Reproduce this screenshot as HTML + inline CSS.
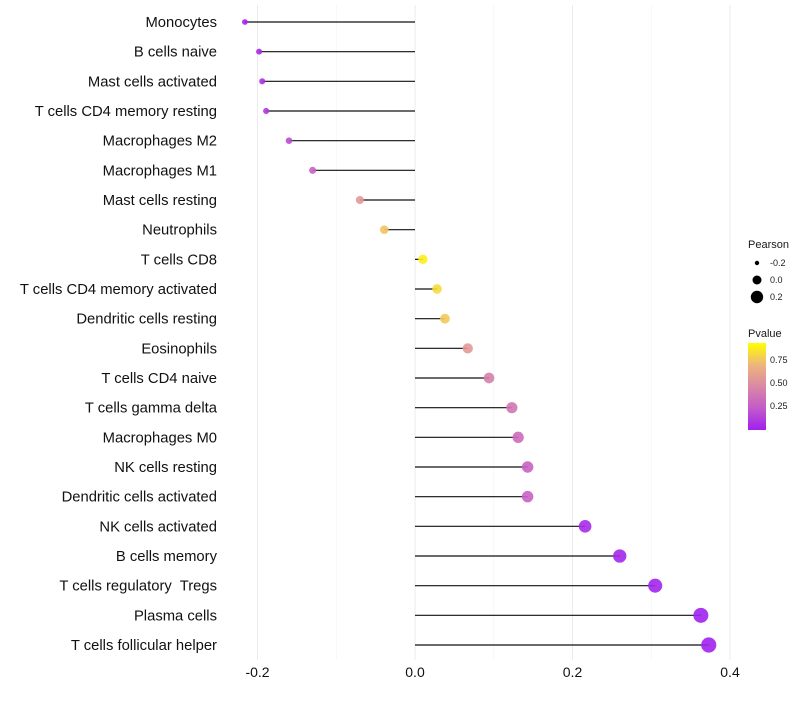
<!DOCTYPE html>
<html><head><meta charset="utf-8"><style>
body{margin:0;background:#fff;}
svg text{font-family:"Liberation Sans",sans-serif;white-space:pre;}
</style></head><body>
<svg id="chart" width="800" height="700" xmlns="http://www.w3.org/2000/svg">
<g id="grid"></g>
<g id="marks"></g>
<g id="ylabels"></g>
<g id="xlabels"></g>
<g id="legend">
<text x="748" y="248" font-size="11" fill="#1a1a1a">Pearson</text>
<circle cx="757" cy="263" r="2.2" fill="#000"/>
<text x="770" y="266" font-size="9" fill="#1a1a1a">-0.2</text>
<circle cx="757" cy="280" r="4.5" fill="#000"/>
<text x="770" y="283" font-size="9" fill="#1a1a1a">0.0</text>
<circle cx="757" cy="297" r="6.2" fill="#000"/>
<text x="770" y="300" font-size="9" fill="#1a1a1a">0.2</text>
<text x="748" y="337" font-size="11" fill="#1a1a1a">Pvalue</text>
<defs><linearGradient id="pg" x1="0" y1="1" x2="0" y2="0">
<stop offset="0" stop-color="#a020f0"/><stop offset="0.25" stop-color="#c35ac9"/><stop offset="0.5" stop-color="#da88a5"/><stop offset="0.75" stop-color="#eeb57c"/><stop offset="1" stop-color="#ffff00"/></linearGradient></defs>
<rect x="748" y="343" width="18" height="87" fill="url(#pg)"/>
<text x="770" y="363" font-size="9" fill="#1a1a1a">0.75</text>
<text x="770" y="386" font-size="9" fill="#1a1a1a">0.50</text>
<text x="770" y="409" font-size="9" fill="#1a1a1a">0.25</text>
</g>
</svg>
<script>
const categories=["Monocytes","B cells naive","Mast cells activated","T cells CD4 memory resting","Macrophages M2","Macrophages M1","Mast cells resting","Neutrophils","T cells CD8","T cells CD4 memory activated","Dendritic cells resting","Eosinophils","T cells CD4 naive","T cells gamma delta","Macrophages M0","NK cells resting","Dendritic cells activated","NK cells activated","B cells memory","T cells regulatory  Tregs","Plasma cells","T cells follicular helper"];
const pearson=[-0.216,-0.198,-0.194,-0.189,-0.160,-0.130,-0.070,-0.039,0.010,0.028,0.038,0.067,0.094,0.123,0.131,0.143,0.143,0.216,0.260,0.305,0.363,0.373];
const pvalue=[0.02,0.05,0.08,0.1,0.2,0.3,0.6,0.8,0.95,0.88,0.82,0.6,0.45,0.4,0.35,0.3,0.3,0.05,0.03,0.02,0.01,0.01];
const xTicks=[-0.2,0,0.2,0.4];
const xTickLabels=["-0.2","0.0","0.2","0.4"];
const minorTicks=[-0.1,0.1,0.3];
const NS="http://www.w3.org/2000/svg";
function xs(v){return 415+v*787.5;}
function ys(i){return 22+i*(623/21);}
function rs(p){return Math.max(2,4.6+8*p);}
const stops=[[0,[160,32,240]],[0.25,[195,90,201]],[0.5,[218,136,165]],[0.75,[238,181,124]],[1,[255,255,0]]];
function col(p){p=Math.max(0,Math.min(1,p));for(let k=1;k<stops.length;k++){if(p<=stops[k][0]){const a=stops[k-1],b=stops[k];const t=(p-a[0])/(b[0]-a[0]);const c=a[1].map((v,j)=>Math.round(v+(b[1][j]-v)*t));return `rgb(${c[0]},${c[1]},${c[2]})`;}}return "rgb(255,255,0)";}
function mk(tag,attrs,parent){const e=document.createElementNS(NS,tag);for(const k in attrs)e.setAttribute(k,attrs[k]);parent.appendChild(e);return e;}
const grid=document.getElementById('grid'),marks=document.getElementById('marks'),yl=document.getElementById('ylabels'),xl=document.getElementById('xlabels');
minorTicks.forEach(v=>{const l=mk('line',{x1:xs(v),x2:xs(v),y1:5,y2:660,stroke:'#f2f2f2','stroke-width':0.6},grid);

});
xTicks.forEach((v,i)=>{const l=mk('line',{x1:xs(v),x2:xs(v),y1:5,y2:660,stroke:'#ebebeb','stroke-width':1},grid);


const t=mk('text',{x:xs(v),y:677,'font-size':14,fill:'#111','text-anchor':'middle'},xl);t.textContent=xTickLabels[i];

});
categories.forEach((c,i)=>{const y=ys(i);
const l=mk('line',{x1:xs(0),x2:xs(pearson[i]),y1:y,y2:y,stroke:'#111','stroke-width':1.2},marks);


const d=mk('circle',{cx:xs(pearson[i]),cy:y,r:rs(pearson[i]),fill:col(pvalue[i]),'fill-opacity':0.9},marks);


const t=mk('text',{x:217,y:y+5,'font-size':14.8,fill:'#111','text-anchor':'end'},yl);t.textContent=c;

});
</script>
</body></html>
